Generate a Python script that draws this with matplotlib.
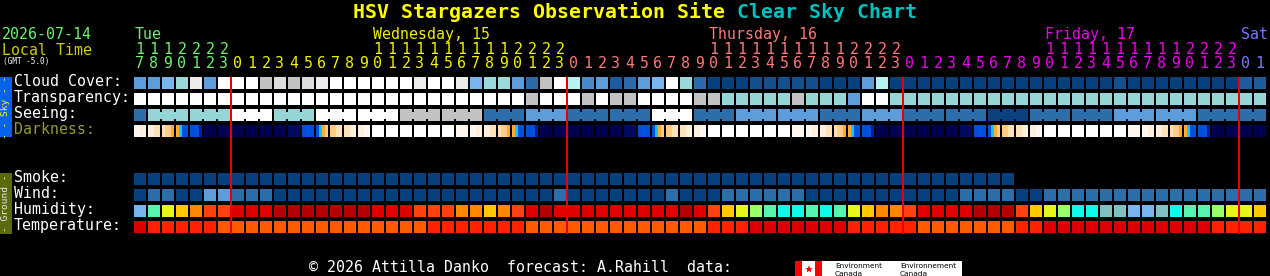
import matplotlib
matplotlib.use("Agg")
import matplotlib.pyplot as plt
from matplotlib.patches import Rectangle

# ------------------------------------------------------------------------------------------------
# Chart data (one entry per forecast hour, Tue 17h .. Sat 01h)

HOURS = [17, 18, 19, 20, 21, 22, 23,
         0, 1, 2, 3, 4, 5, 6, 7, 8, 9, 10, 11, 12, 13, 14, 15, 16, 17, 18, 19, 20, 21, 22, 23,
         0, 1, 2, 3, 4, 5, 6, 7, 8, 9, 10, 11, 12, 13, 14, 15, 16, 17, 18, 19, 20, 21, 22, 23,
         0, 1, 2, 3, 4, 5, 6, 7, 8, 9, 10, 11, 12, 13, 14, 15, 16, 17, 18, 19, 20, 21, 22, 23,
         0, 1]

DAY_LABELS = ["Tue", "Wednesday, 15", "Thursday, 16", "Friday, 17", "Sat"]
DAY_COLORS = ["#70f070", "#f0f000", "#ff7878", "#f000f0", "#7878ff"]
DAY_LABEL_COL = [0, 17, 41, 65, 79]

ROW_NAMES = ["Cloud Cover:", "Transparency:", "Seeing:", "Darkness:",
             "Smoke:", "Wind:", "Humidity:", "Temperature:"]

# cloud cover levels (0 = clear ... 12 = overcast)
CLOUD = [5, 5, 6, 7, 11, 5, 12,
         12, 12, 9, 10, 9, 10, 11, 12, 12, 12, 12, 12, 12, 11, 12, 12, 11, 6, 7, 7, 5, 3, 9, 12,
         8, 4, 5, 2, 3, 5, 6, 12, 7, 3, 0, 0, 0, 1, 1, 1, 1, 1, 0, 0, 0, 5, 8, 0,
         0, 0, 0, 0, 0, 0, 0, 0, 0, 0, 0, 0, 0, 0, 0, 1, 0, 0, 0, 0, 0, 0, 0, 0,
         2, 2]
CLOUD_COLORS = ["#06407f", "#134f8d", "#1d5c9e", "#2c6bab", "#4a88cc", "#5e9ddb", "#78b6f2",
                "#9ad9d9", "#b5f2f2", "#c2c2c2", "#dcdcdc", "#ececec", "#ffffff"]

# transparency (0 = too cloudy, 1 = poor, 2 = below average, 3 = average)
TRANSP = [0, 0, 0, 0, 0, 0, 0,
          0, 0, 0, 0, 0, 0, 0, 0, 0, 0, 0, 0, 0, 0, 0, 0, 0, 0, 0, 0, 0, 1, 0, 0,
          0, 1, 0, 1, 1, 0, 0, 0, 0, 1, 1, 2, 2, 2, 2, 2, 1, 2, 2, 2, 3, 0, 0, 2,
          2, 2, 2, 2, 2, 2, 2, 2, 2, 2, 2, 2, 2, 2, 2, 2, 2, 2, 2, 2, 2, 2, 2, 2,
          2, 2]
TRANSP_COLORS = ["#ffffff", "#c2c2c2", "#95d5d5", "#5e9cdb"]

# seeing (0 = good ... 5 = too cloudy)
SEEING = [1, 3, 3, 3, 3, 3, 3,
          5, 5, 5, 3, 3, 3, 5, 5, 5, 5, 5, 5, 4, 4, 4, 4, 4, 4, 1, 1, 1, 2, 2, 2,
          1, 1, 1, 1, 1, 1, 5, 5, 5, 1, 1, 1, 2, 2, 2, 2, 2, 2, 1, 1, 1, 2, 2, 2,
          1, 1, 1, 1, 1, 1, 0, 0, 0, 1, 1, 1, 1, 1, 1, 2, 2, 2, 2, 2, 2, 1, 1, 1,
          1, 1]
SEEING_COLORS = ["#0a417f", "#2c6eaa", "#5e9ddb", "#95d5d5", "#c2c2c2", "#ffffff"]

# darkness, four quarter-hour shades per hour
DARKNESS = ["1122", "2233", "3445", "5CBB", "BBBD", "NNNN", "NNNN",
            "NNNN", "NNNN", "NNNN", "NNNN", "MMMM", "BBBB", "BC54", "4433", "3322", "2211",
            "WWWW", "WWWW", "WWWW", "WWWW", "WWWW", "WWWW", "1111",
            "1122", "2233", "3445", "5CBB", "BBBD", "NNNN", "NNNN",
            "NNNN", "NNNN", "NNNN", "NNNN", "MMMM", "BBBB", "BC54", "4433", "3322", "2211",
            "WWWW", "WWWW", "WWWW", "WWWW", "WWWW", "WWWW", "1111",
            "1122", "2233", "3445", "5CBB", "BBBD", "NNNN", "NNNN",
            "NNNN", "NNNN", "NNNN", "NNNN", "MMMM", "BBBB", "BC54", "4433", "3322", "2211",
            "WWWW", "WWWW", "WWWW", "WWWW", "WWWW", "WWWW", "1111",
            "1122", "2233", "3445", "5CBB", "BBBD", "NNNN", "NNNN",
            "NNNN", "NNNN"]
DARK_COLORS = {"W": "#ffffff", "1": "#fff7ee", "2": "#ffefdc", "3": "#ffe0b8", "4": "#ffcc88",
               "5": "#ffaa33", "C": "#10c8ff", "B": "#0050e0", "D": "#0020a0",
               "N": "#000050", "M": "#000a60"}

# smoke (forecast ends early)
SMOKE = [0] * 63
SMOKE_COLORS = ["#06407f"]

# wind (0 = calm ... 2 = breezy)
WIND = [0, 1, 1, 0, 0, 2, 2,
        1, 1, 1, 0, 0, 0, 0, 0, 0, 0, 0, 0, 0, 0, 0, 0, 0, 0, 0, 0, 0, 0, 0, 1,
        0, 0, 0, 0, 0, 0, 0, 1, 0, 0, 0, 1, 1, 1, 1, 1, 1, 0, 0, 0, 0, 0, 0, 0,
        0, 0, 0, 0, 1, 1, 1, 1, 0, 0, 1, 1, 1, 1, 1, 1, 1, 1, 1, 1, 1, 1, 1, 1,
        1, 1]
WIND_COLORS = ["#06407f", "#2c6eaa", "#5e9ddb"]

# humidity (0 = dry ... 10 = saturated)
HUMID = [0, 3, 5, 6, 7, 8, 8,
         9, 9, 9, 10, 10, 10, 10, 10, 10, 10, 9, 9, 9, 8, 8, 8, 7, 7, 6, 7, 8, 9, 10, 9,
         9, 9, 9, 9, 9, 9, 9, 9, 10, 9, 8, 6, 5, 4, 3, 2, 2, 3, 2, 3, 5, 6, 7, 7,
         8, 9, 9, 9, 9, 10, 10, 10, 8, 6, 5, 4, 2, 2, 1, 1, 0, 0, 1, 2, 3, 3, 4, 5,
         5, 6]
HUMID_COLORS = ["#78b4f0", "#80c0c0", "#10f8e8", "#55f5b0", "#99ff66", "#e6f51a",
                "#ffc800", "#ff8800", "#ff4010", "#e00000", "#b40000"]

# temperature
TEMP = [0, 1, 1, 1, 1, 1, 2,
        2, 2, 2, 2, 2, 2, 2, 2, 2, 2, 2, 2, 2, 2, 1, 1, 1, 1, 1, 1, 1, 2, 2, 2,
        2, 2, 2, 2, 2, 2, 2, 2, 2, 2, 1, 1, 1, 0, 0, 0, 0, 0, 0, 0, 1, 1, 1, 1,
        1, 2, 2, 2, 2, 2, 2, 2, 1, 1, 0, 0, 0, 0, 0, 0, 0, 0, 0, 0, 0, 0, 1, 1,
        1, 1]
TEMP_COLORS = ["#dd0000", "#ff2200", "#ff5a00"]

# ------------------------------------------------------------------------------------------------
# Layout (pixels)
W, H = 1270, 276
X0, PITCH, CELL = 134, 14, 12        # first column, column pitch, cell size
Y0, ROWP = 77, 16                    # top of first row, row pitch
SLOTS = [0, 1, 2, 3, 6, 7, 8, 9]     # row slot of each line (4,5 left empty)
CW = CELL / PITCH
CH = CELL / ROWP
MONO = "DejaVu Sans Mono"
BIG = 10.75                          # header / label font (9 px per char)


def py(px):
    # pixel y -> row units of the grid axes
    return (px - Y0) / ROWP


def cells(ax, levels, colors, slot):
    for i, lv in enumerate(levels):
        ax.add_patch(Rectangle((i, slot), CW, CH, color=colors[lv], lw=0))


def seeing(ax, levels, colors, slot):
    cells(ax, levels, colors, slot)
    bh = 7 / ROWP
    for i in range(len(levels) - 1):
        if HOURS[i] // 3 == HOURS[i + 1] // 3:
            ax.add_patch(Rectangle((i + CW, slot + (CH - bh) / 2), 1 - CW, bh,
                                   color=colors[levels[i]], lw=0))


def darkness(ax, codes, slot):
    for i, code in enumerate(codes):
        sw = CW / len(code)
        for k, c in enumerate(code):
            ax.add_patch(Rectangle((i + k * sw, slot), sw * 1.02, CH, color=DARK_COLORS[c], lw=0))


def Start():
    fig = plt.figure(figsize=(W / 100, H / 100), dpi=100, facecolor="black")

    # overlay in pixel coordinates for text and the side bars
    ov = fig.add_axes([0, 0, 1, 1])
    ov.set_xlim(0, W); ov.set_ylim(H, 0); ov.axis("off")

    n = len(HOURS)
    ax = fig.add_axes([X0 / W, 1 - (Y0 + 10 * ROWP) / H, n * PITCH / W, 10 * ROWP / H])
    ax.set_xlim(0, n); ax.set_ylim(10, 0); ax.axis("off")

    # title
    t1 = "HSV Stargazers Observation Site "
    ov.text(353, 18.3, t1, color="#ffff00", fontsize=14.35, family=MONO, weight="bold", va="baseline")
    ov.text(353 + 12 * len(t1), 18.3, "Clear Sky Chart", color="#00c0c0", fontsize=14.35,
            family=MONO, weight="bold", va="baseline")

    # left header
    ov.text(2, 39.3, "2026-07-14", color="#70f070", fontsize=BIG, family=MONO, va="baseline")
    ov.text(2, 55, "Local Time", color="#cccc00", fontsize=BIG, family=MONO, va="baseline")
    ov.text(3, 64, "(GMT -5.0)", color="white", fontsize=5.6, family=MONO, va="baseline")

    # day labels and hour digits
    day = 0
    daycol = []
    for i, h in enumerate(HOURS):
        if h == 0 and i > 0:
            day += 1
        daycol.append(day)
    for d, lab in enumerate(DAY_LABELS):
        ax.text(DAY_LABEL_COL[d] + 0.07, py(39.3), lab, color=DAY_COLORS[d], fontsize=BIG,
                family=MONO, va="baseline")
    for i, h in enumerate(HOURS):
        c = DAY_COLORS[daycol[i]]
        if h >= 10:
            ax.text(i + CW / 2, py(53.5), str(h // 10), color=c, fontsize=BIG, family=MONO,
                    ha="center", va="baseline")
        ax.text(i + CW / 2, py(68.5), str(h % 10), color=c, fontsize=BIG, family=MONO,
                ha="center", va="baseline")

    # row labels
    for name, slot in zip(ROW_NAMES, SLOTS):
        col = "#999933" if name == "Darkness:" else "white"
        ov.text(14, Y0 + slot * ROWP + 9.3, name, color=col, fontsize=BIG, family=MONO, va="baseline")

    # side bars
    ov.add_patch(Rectangle((0, 77), 12, 60, color="#0762f0", lw=0))
    ov.text(6, 107, "- - Sky - -", color="#ffff00", fontsize=6.8, family=MONO, rotation=90,
            ha="center", va="center")
    ov.add_patch(Rectangle((0, 173), 12, 61, color="#5b6b0b", lw=0))
    ov.text(6, 203.5, "- Ground -", color="#e8e8e8", fontsize=6.8, family=MONO, rotation=90,
            ha="center", va="center")

    # the grid
    cells(ax, CLOUD, CLOUD_COLORS, SLOTS[0])
    cells(ax, TRANSP, TRANSP_COLORS, SLOTS[1])
    seeing(ax, SEEING, SEEING_COLORS, SLOTS[2])
    darkness(ax, DARKNESS, SLOTS[3])
    cells(ax, SMOKE, SMOKE_COLORS, SLOTS[4])
    cells(ax, WIND, WIND_COLORS, SLOTS[5])
    cells(ax, HUMID, HUMID_COLORS, SLOTS[6])
    cells(ax, TEMP, TEMP_COLORS, SLOTS[7])

    # midnight lines
    mid = [i - 1 / PITCH for i, h in enumerate(HOURS) if h == 0 and i > 0]
    ax.vlines(mid, py(76.5), py(233.5), color="#ff0000", lw=1.3)

    # footer
    ov.text(309, 272, "\u00a9 2026 Attilla Danko  forecast: A.Rahill  data:", color="white",
            fontsize=BIG, family=MONO, va="baseline")
    ov.add_patch(Rectangle((795, 261), 167, 15, color="white", lw=0))
    ov.add_patch(Rectangle((795, 261), 7, 15, color="#ff0000", lw=0))
    ov.add_patch(Rectangle((815, 261), 7, 15, color="#ff0000", lw=0))
    ov.plot([808.5], [268.5], marker="*", color="#ff0000", ms=6, mew=0)
    for x, word in [(835, "Environment"), (900, "Environnement")]:
        ov.text(x, 268.3, word, color="black", fontsize=5.3, family="DejaVu Sans", va="baseline")
        ov.text(x, 275.5, "Canada", color="black", fontsize=5.3, family="DejaVu Sans", va="baseline")

    fig.savefig("out.png", dpi=100, facecolor="black")


if __name__ == "__main__":
    Start()
